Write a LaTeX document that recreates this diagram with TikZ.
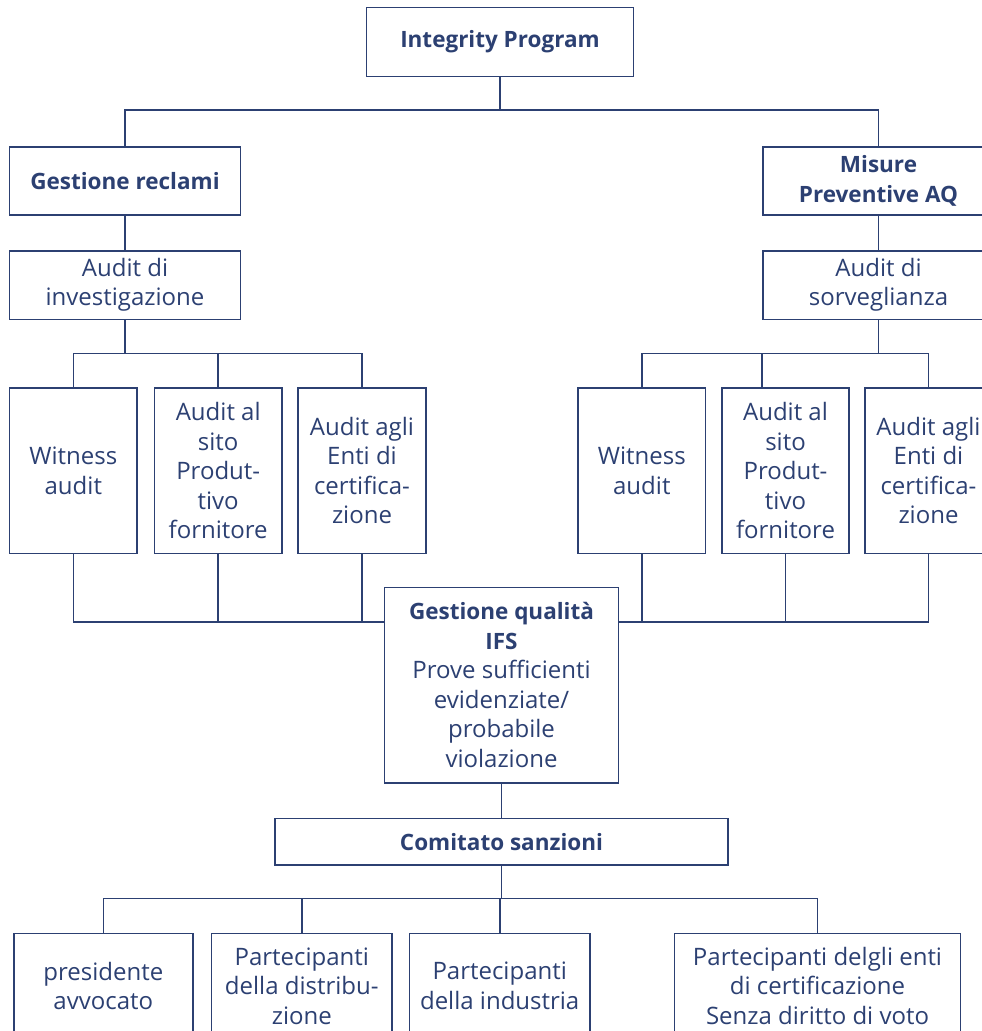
\documentclass[tikz,border=0pt]{standalone}
\usepackage{fontspec}
\setmainfont{Open Sans}
\usetikzlibrary{calc}
\definecolor{navy}{RGB}{44,64,114}
\newcommand\regfnt{\fontsize{24}{29.5}\selectfont}
\newcommand\bldfnt{\fontsize{22.5}{29.5}\selectfont\bfseries}
\begin{document}
\begin{tikzpicture}[x=1pt,y=-1pt,
  box/.style={draw=navy, line width=1.6pt, text=navy, align=center, inner sep=0pt, font=\regfnt},
  bbox/.style={box, font=\bldfnt},
  conn/.style={draw=navy, line width=1.6pt}]
\useasboundingbox (0,0) rectangle (982,1031);
\clip (0,0) rectangle (982,1031);
% level 0
\node[bbox, minimum width=267pt, minimum height=69pt] (ip) at (500,42) {Integrity Program};
% level 1
\node[bbox, minimum width=231pt, minimum height=68pt] (gr) at (125,180.7) {Gestione reclami};
\node[bbox, minimum width=231pt, minimum height=68pt] (mp) at (878.5,180.7) {Misure\\Preventive AQ};
% level 2
\node[box, minimum width=231pt, minimum height=68.6pt] (ai) at (125,285) {Audit di\\investigazione};
\node[box, minimum width=231pt, minimum height=68.6pt] (as) at (878.5,285) {Audit di\\sorveglianza};
% level 3
\tikzset{kid/.style={box, minimum width=127.5pt, minimum height=165.3pt}}
\node[kid] (L1) at (73.3,470.7) {Witness\\audit};
\node[kid] (L2) at (218.2,470.7) {Audit al\\sito\\Produt-\\tivo\\fornitore};
\node[kid] (L3) at (362,470.7) {Audit agli\\Enti di\\certifica-\\zione};
\node[kid] (R1) at (641.8,470.7) {Witness\\audit};
\node[kid] (R2) at (785.5,470.7) {Audit al\\sito\\Produt-\\tivo\\fornitore};
\node[kid] (R3) at (928.5,470.7) {Audit agli\\Enti di\\certifica-\\zione};
% level 4
\node[box, minimum width=234pt, minimum height=195.5pt] (q) at (501.5,685.2)
  {{\bldfnt Gestione qualità}\\{\bldfnt IFS}\\Prove sufficienti\\evidenziate/\\probabile\\violazione};
\node[bbox, minimum width=452.7pt, minimum height=46.7pt] (cs) at (501.5,841.7) {Comitato sanzioni};
% level 5
\tikzset{mem/.style={box, minimum height=105pt}}
\node[mem, minimum width=179pt] (B1) at (103.3,985.8) {presidente\\avvocato};
\node[mem, minimum width=180.4pt] (B2) at (301.8,985.8) {Partecipanti\\della distribu-\\zione};
\node[mem, minimum width=180.4pt] (B3) at (499.7,985.8) {Partecipanti\\della industria};
\node[mem, minimum width=286pt] (B4) at (817.5,985.8) {Partecipanti delgli enti\\di certificazione\\Senza diritto di voto};
% connectors
\coordinate (tbus) at (0,110);
\draw[conn] (ip.south) -- (ip.south |- tbus);
\draw[conn] (gr.north) -- (gr.north |- tbus) -- (mp.north |- tbus) -- (mp.north);
\draw[conn] (gr.south) -- (ai.north);
\draw[conn] (mp.south) -- (as.north);
\coordinate (mbus) at (0,353.5);
\draw[conn] (ai.south) -- (ai.south |- mbus);
\draw[conn] (L1.north) -- (L1.north |- mbus) -- (L3.north |- mbus) -- (L3.north);
\draw[conn] (L2.north) -- (L2.north |- mbus);
\draw[conn] (as.south) -- (as.south |- mbus);
\draw[conn] (R1.north) -- (R1.north |- mbus) -- (R3.north |- mbus) -- (R3.north);
\coordinate (R2top) at ($(R2.north west)+(41,0)$);
\draw[conn] (R2top) -- (R2top |- mbus);
\coordinate (qbus) at (0,621.7);
\draw[conn] (L1.south) -- (L1.south |- qbus) -- (q.west |- qbus);
\draw[conn] (L2.south) -- (L2.south |- qbus);
\draw[conn] (L3.south) -- (L3.south |- qbus);
\draw[conn] (R3.south) -- (R3.south |- qbus) -- (q.east |- qbus);
\draw[conn] (R1.south) -- (R1.south |- qbus);
\draw[conn] (R2.south) -- (R2.south |- qbus);
\draw[conn] (q.south) -- (cs.north);
\coordinate (bbus) at (0,898.3);
\draw[conn] (cs.south) -- (cs.south |- bbus);
\draw[conn] (B1.north) -- (B1.north |- bbus) -- (B4.north |- bbus) -- (B4.north);
\draw[conn] (B2.north) -- (B2.north |- bbus);
\draw[conn] (B3.north) -- (B3.north |- bbus);
\end{tikzpicture}
\end{document}
